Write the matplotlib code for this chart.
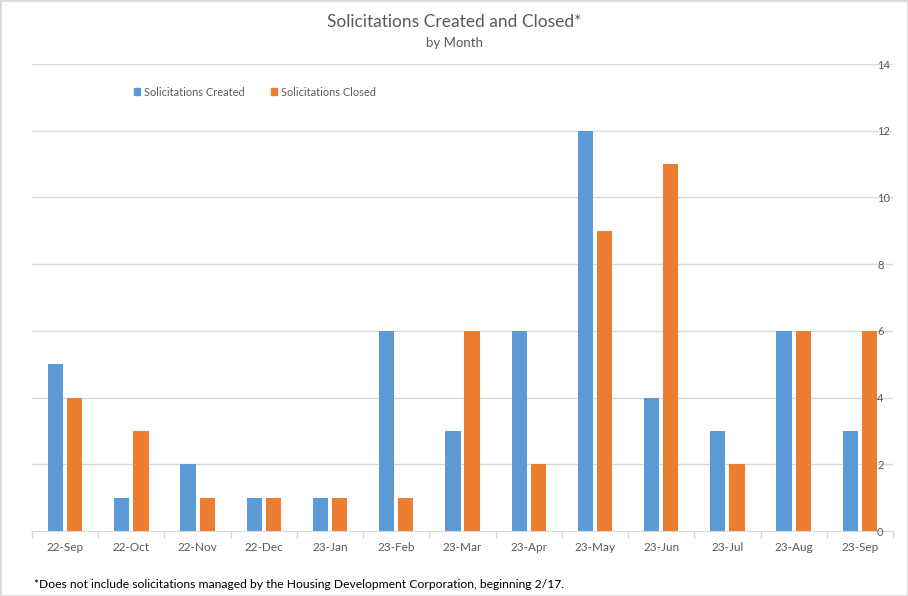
import numpy as np
import matplotlib
matplotlib.use("Agg")
import matplotlib.pyplot as plt
from matplotlib.patches import Patch, Rectangle

plt.rcParams['font.family'] = ['Lato', 'DejaVu Sans']

months = ["22-Sep", "22-Oct", "22-Nov", "22-Dec", "23-Jan", "23-Feb", "23-Mar",
          "23-Apr", "23-May", "23-Jun", "23-Jul", "23-Aug", "23-Sep"]
created = [5, 1, 2, 1, 1, 6, 3, 6, 12, 4, 3, 6, 3]
closed = [4, 3, 1, 1, 1, 1, 6, 2, 9, 11, 2, 6, 6]
yticks = [0, 2, 4, 6, 8, 10, 12, 14]

blue = '#5B9BD5'
orange = '#ED7D31'
grey = '#595959'

W, H = 908, 596
fig = plt.figure(figsize=(W / 100, H / 100), dpi=100)
ax = fig.add_axes([32 / W, 1 - 531 / H, (893 - 32) / W, (531 - 64) / H])

x = np.arange(len(months))
width = 0.23
ax.bar(x - 0.145, created, width, color=blue, zorder=2)
ax.bar(x + 0.145, closed, width, color=orange, zorder=2)

# gridlines behind bars, tick labels on top
for t in yticks[1:]:
    ax.axhline(t, color='#d9d9d9', linewidth=1, zorder=0)

ax.set_xlim(-0.5, len(months) - 0.5)
ax.set_ylim(0, 14)
ax.set_yticks(yticks)
ax.yaxis.tick_right()
ax.yaxis.set_zorder(4)
ax.tick_params(axis='y', length=0, pad=-11.5, labelsize=8, labelcolor=grey)

ax.set_xticks(x)
ax.set_xticklabels(months, fontsize=8.5, color=grey)
ax.set_xticks(np.arange(-0.5, len(months)), minor=True)
ax.tick_params(axis='x', which='major', length=0, pad=8)
ax.tick_params(axis='x', which='minor', length=5, color='#d9d9d9', width=1)

for s in ['top', 'left', 'right']:
    ax.spines[s].set_visible(False)
ax.spines['bottom'].set_color('#d9d9d9')
ax.spines['bottom'].set_zorder(3)

fig.text(0.5, 1 - 22 / H, "Solicitations Created and Closed*", ha='center', va='center',
         fontsize=12.5, color=grey)
fig.text(0.5, 1 - 43 / H, "by Month", ha='center', va='center', fontsize=9.5, color=grey)

handles = [Patch(color=blue, label="Solicitations Created"),
           Patch(color=orange, label="Solicitations Closed")]
fig.legend(handles=handles, loc='center left', bbox_to_anchor=(124 / W, 1 - 92 / H), ncol=2,
           frameon=False, fontsize=7.9, handlelength=0.6, handleheight=0.6,
           handletextpad=0.3, columnspacing=2.4, labelcolor=grey)

fig.text(34 / W, 1 - 585 / H,
         "*Does not include solicitations managed by the Housing Development Corporation, beginning 2/17.",
         ha='left', va='center', fontsize=8.7, color='black')

fig.patches.append(Rectangle((0, 0), 1, 1, transform=fig.transFigure, fill=False,
                             edgecolor='#d9d9d9', linewidth=2))

fig.savefig("out.png", dpi=100)
